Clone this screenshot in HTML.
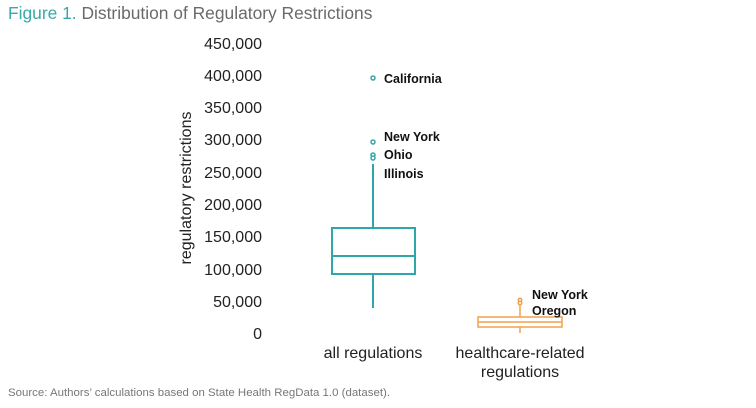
<!DOCTYPE html>
<html><head><meta charset="utf-8"><style>
html,body{margin:0;padding:0;background:#fff;}
svg{display:block;}
text{font-family:"Liberation Sans",sans-serif;}
</style></head><body>
<svg width="756" height="408" viewBox="0 0 756 408" xmlns="http://www.w3.org/2000/svg">
<rect width="756" height="408" fill="#fff"/>
<text x="8" y="19" font-size="17.4" fill="#6a6a6a"><tspan fill="#3aa8aa">Figure 1.</tspan> Distribution of Regulatory Restrictions</text>
<g font-size="16" fill="#222" text-anchor="end">
<text x="262" y="49">450,000</text>
<text x="262" y="81">400,000</text>
<text x="262" y="113">350,000</text>
<text x="262" y="145">300,000</text>
<text x="262" y="178">250,000</text>
<text x="262" y="210">200,000</text>
<text x="262" y="242">150,000</text>
<text x="262" y="275">100,000</text>
<text x="262" y="307">50,000</text>
<text x="262" y="339">0</text>
</g>
<text transform="translate(191,188) rotate(-90)" font-size="16" fill="#222" text-anchor="middle">regulatory restrictions</text>
<g stroke="#2fa7aa" stroke-width="2" fill="none">
<line x1="373" y1="164" x2="373" y2="228"/>
<line x1="373" y1="274" x2="373" y2="308"/>
<rect x="332" y="228" width="83" height="46"/>
<line x1="332" y1="256" x2="415" y2="256"/>
</g>
<g stroke="#2fa7aa" stroke-width="1.5" fill="#fff">
<circle cx="373" cy="78" r="2"/>
<circle cx="373" cy="142" r="2"/>
<circle cx="373" cy="155" r="2"/>
<circle cx="373" cy="158" r="2"/>
</g>
<g stroke="#f0a04b" stroke-width="1.5" fill="none">
<line x1="520" y1="304" x2="520" y2="317"/>
<line x1="520" y1="327" x2="520" y2="333"/>
<rect x="478" y="317" width="84" height="10"/>
<line x1="478" y1="322" x2="562" y2="322"/>
<circle cx="520" cy="300" r="1.8" fill="#fff"/>
<circle cx="520" cy="303" r="1.8" fill="#fff"/>
</g>
<g font-size="12.5" font-weight="bold" fill="#111">
<text x="384" y="83">California</text>
<text x="384" y="141">New York</text>
<text x="384" y="159">Ohio</text>
<text x="384" y="178">Illinois</text>
<text x="532" y="299">New York</text>
<text x="532" y="315">Oregon</text>
</g>
<g font-size="16" fill="#222" text-anchor="middle">
<text x="373" y="358">all regulations</text>
<text x="520" y="358">healthcare-related</text>
<text x="520" y="377">regulations</text>
</g>
<text x="8" y="396" font-size="11" fill="#777" textLength="382" lengthAdjust="spacingAndGlyphs">Source: Authors’ calculations based on State Health RegData 1.0 (dataset).</text>
</svg>
</body></html>
